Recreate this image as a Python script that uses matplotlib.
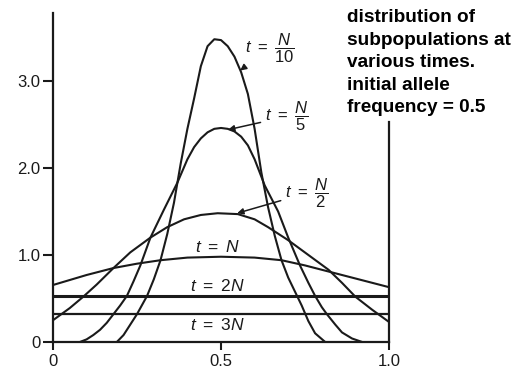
import matplotlib
matplotlib.use("Agg")
import matplotlib.pyplot as plt

plt.rcParams["font.family"] = ["Liberation Sans", "DejaVu Sans"]
plt.rcParams["mathtext.fontset"] = "custom"
plt.rcParams["mathtext.rm"] = "Liberation Sans"
plt.rcParams["mathtext.it"] = "Liberation Sans:italic"

# curves (allele frequency, density)
x_n10 = [0.19, 0.21, 0.23, 0.25, 0.28, 0.30, 0.32, 0.34, 0.36, 0.38, 0.40, 0.42, 0.44,
         0.46, 0.48, 0.50, 0.52, 0.54, 0.56, 0.58, 0.60, 0.62, 0.64, 0.66, 0.68,
         0.70, 0.72, 0.74, 0.76, 0.78, 0.81]
y_n10 = [0.0, 0.08, 0.20, 0.32, 0.53, 0.72, 0.94, 1.24, 1.60, 2.05, 2.45, 2.80, 3.17,
         3.40, 3.48, 3.47, 3.40, 3.28, 3.10, 2.85, 2.45, 1.95, 1.55, 1.22, 0.94,
         0.74, 0.58, 0.42, 0.24, 0.10, 0.0]

x_n5 = [0.08, 0.10, 0.12, 0.14, 0.16, 0.18, 0.20, 0.22, 0.24, 0.26, 0.29, 0.33, 0.37,
        0.40, 0.42, 0.44, 0.46, 0.48, 0.50, 0.52, 0.54, 0.56, 0.58, 0.60, 0.63,
        0.67, 0.70, 0.735, 0.76, 0.78, 0.80, 0.815, 0.84, 0.86, 0.89, 0.92]
y_n5 = [0.0, 0.03, 0.08, 0.14, 0.22, 0.32, 0.42, 0.53, 0.70, 0.88, 1.20, 1.52, 1.83,
        2.10, 2.24, 2.34, 2.41, 2.45, 2.46, 2.45, 2.42, 2.36, 2.26, 2.10, 1.80,
        1.50, 1.20, 0.88, 0.68, 0.53, 0.40, 0.32, 0.20, 0.11, 0.04, 0.0]

x_n2 = [0.0, 0.05, 0.09, 0.13, 0.18, 0.23, 0.29, 0.34, 0.39, 0.44, 0.49, 0.55, 0.60,
        0.64, 0.70, 0.76, 0.82, 0.86, 0.90, 0.95, 1.0]
y_n2 = [0.25, 0.39, 0.52, 0.66, 0.85, 1.03, 1.20, 1.32, 1.41, 1.46, 1.48, 1.47, 1.41,
        1.32, 1.17, 1.00, 0.83, 0.68, 0.52, 0.37, 0.23]

x_n = [0.0, 0.10, 0.18, 0.25, 0.32, 0.40, 0.50, 0.60, 0.68, 0.75, 0.82, 0.90, 1.0]
y_n = [0.655, 0.77, 0.85, 0.90, 0.94, 0.97, 0.98, 0.97, 0.94, 0.88, 0.81, 0.73, 0.63]

x_flat = [0.0, 1.0]
y_2n = [0.53, 0.53]
y_3n = [0.32, 0.32]

y_ticks = [0, 1.0, 2.0, 3.0]
y_ticklabels = ["0", "1.0", "2.0", "3.0"]
x_ticks = [0, 0.5, 1.0]
x_ticklabels = ["0", "0.5", "1.0"]

caption = "distribution of\nsubpopulations at\nvarious times.\ninitial allele\nfrequency = 0.5"

ink = "#1a1a1a"

fig = plt.figure(figsize=(5.21, 3.71), dpi=100)
ax = fig.add_axes([0.1017, 0.0782, 0.645, 0.8911])

for xs, ys in [(x_n10, y_n10), (x_n5, y_n5), (x_n2, y_n2), (x_n, y_n)]:
    ax.plot(xs, ys, color=ink, lw=1.5, solid_capstyle="butt")
ax.plot(x_flat, y_2n, color=ink, lw=2.2)
ax.plot(x_flat, y_3n, color=ink, lw=1.6)

ax.set_xlim(0, 1)
ax.set_ylim(0, 3.8)
ax.spines["top"].set_visible(False)
ax.spines["left"].set_bounds(0, 3.78)
ax.spines["right"].set_bounds(0, 2.53)
for s in ["left", "right", "bottom"]:
    ax.spines[s].set_linewidth(1.6)
    ax.spines[s].set_color(ink)

ax.set_yticks(y_ticks)
ax.set_yticklabels(y_ticklabels)
ax.set_xticks(x_ticks)
ax.set_xticklabels(x_ticklabels)
ax.tick_params(axis="y", direction="out", length=7, width=1.5, pad=2,
               labelsize=12, colors=ink)
ax.tick_params(axis="x", direction="out", length=6, width=1.5, pad=3,
               labelsize=12, colors=ink)

arrow = dict(arrowstyle="-|>", color=ink, lw=1.1, mutation_scale=9,
             shrinkA=1, shrinkB=0)
lab = dict(fontsize=12, color=ink, ha="left", va="center")

ax.annotate(r"$t\ =\ \dfrac{N}{10}$", xy=(0.557, 3.12), xytext=(0.57, 3.38),
            arrowprops=arrow, **lab)
ax.annotate(r"$t\ =\ \dfrac{N}{5}$", xy=(0.521, 2.44), xytext=(0.63, 2.59),
            arrowprops=arrow, **lab)
ax.annotate(r"$t\ =\ \dfrac{N}{2}$", xy=(0.548, 1.48), xytext=(0.69, 1.71),
            arrowprops=arrow, **lab)

ax.text(0.49, 1.09, r"$t\ =\ N$", fontsize=12.5, color=ink, ha="center", va="center")
ax.text(0.49, 0.64, r"$t\ =\ 2N$", fontsize=12.5, color=ink, ha="center", va="center")
ax.text(0.49, 0.20, r"$t\ =\ 3N$", fontsize=12.5, color=ink, ha="center", va="center")

fig.text(347 / 521, 1 - 9 / 371, caption, fontsize=13.7, fontweight="bold",
         color="black", ha="left", va="top", linespacing=1.43)

plt.savefig("out.png", dpi=100)
